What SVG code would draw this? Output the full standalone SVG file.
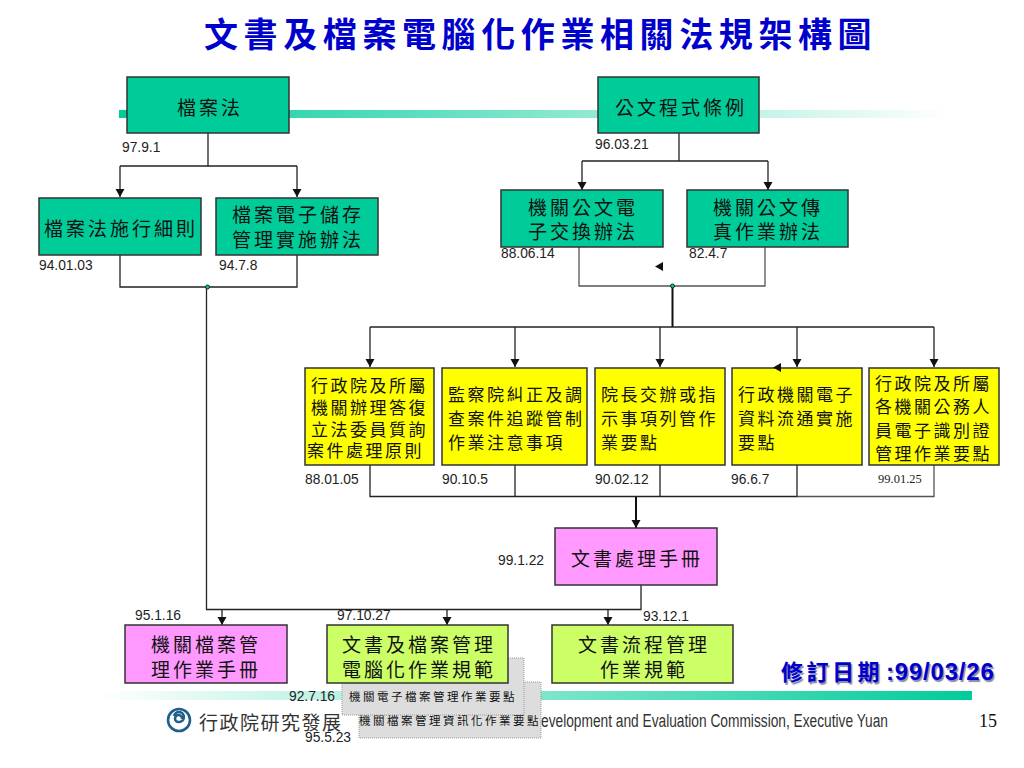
<svg xmlns="http://www.w3.org/2000/svg" width="1024" height="768" viewBox="0 0 1024 768">
<style>
text{font-family:"Noto Sans CJK TC","Liberation Sans",sans-serif;fill:#111}
.n{stroke:#333;stroke-width:1.5}
.t{fill:#00CC99}.y{fill:#FFFF00}.p{fill:#FF99FF}.g{fill:#CCFF66}
.b{font-size:19px;letter-spacing:3px;text-anchor:middle}
.s{font-size:17px;letter-spacing:2.500px}
.d{font-family:"Liberation Sans",Arial,sans-serif;font-size:13.800px;fill:#222}
.q{fill:#DDDDDD;stroke:#999;stroke-width:1;stroke-dasharray:1 1}
.k{font-size:11.500px;letter-spacing:2.500px}
.c{fill:none;stroke:#222;stroke-width:1.3}
.h{fill:none;stroke:#111;stroke-width:2}
.v{fill:none;stroke:#555;stroke-width:1.3}
</style>
<defs>
<linearGradient id="top"><stop offset="0" stop-color="#00CC99"/><stop offset="1" stop-color="#00CC99" stop-opacity="0"/></linearGradient>
<linearGradient id="bot"><stop offset="0" stop-color="#00CC99" stop-opacity="0"/><stop offset="1" stop-color="#00CC99"/></linearGradient>
<marker id="a" markerUnits="userSpaceOnUse" markerWidth="10" markerHeight="10" refX="8" refY="4.500" orient="auto"><path d="M0 0L8 4.500L0 9Z" fill="#111"/></marker>
</defs>
<g id="background">
<rect x="119" y="110" width="830" height="8" fill="url(#top)"/>
<rect x="100" y="691" width="872" height="9" fill="url(#bot)"/>
</g>
<g id="title"><text x="204" y="47" style="font-size:34px;letter-spacing:5.600px;font-weight:700;fill:#0000CC">文書及檔案電腦化作業相關法規架構圖</text></g>
<g id="footer">
<g fill="none" stroke="#1F5F8B" stroke-width="2.600"><circle cx="179" cy="720" r="11"/><path d="M174 716a5 5 0 1 1 5 6a3.500 3.500 0 1 1 3-3"/></g>
<text x="199" y="730" style="font-size:19px;letter-spacing:1.500px;fill:#333">行政院研究發展</text>
<text x="541" y="727" textLength="347" lengthAdjust="spacingAndGlyphs" style="font-family:'Liberation Sans',sans-serif;font-size:18px;fill:#333">evelopment and Evaluation Commission, Executive Yuan</text>
<text x="979" y="727" style="font-family:'Liberation Serif',serif;font-size:18px">15</text>
</g>
<g id="note-2"><rect class="q" x="359" y="682" width="182" height="56"/></g>
<g id="note-1"><rect class="q" x="342" y="658" width="182" height="57"/><text class="k" x="349" y="701">機關電子檔案管理作業要點</text></g>
<g id="note-2-text"><text class="k" x="359" y="725">機關檔案管理資訊化作業要點</text></g>
<g id="connectors">
<path class="c" d="M208 133V166"/>
<path class="c" d="M120 166H297M120 166V197" marker-end="url(#a)"/>
<path class="c" d="M297 166V197" marker-end="url(#a)"/>
<path class="c" d="M120 255V287H297V255"/>
<path class="c" d="M206.500 287V609.500H641V585"/>
<path class="c" d="M222 609.500V625" marker-end="url(#a)"/>
<path class="c" d="M447 609.500V625" marker-end="url(#a)"/>
<path class="c" d="M608 609.500V625" marker-end="url(#a)"/>
<path class="c" d="M679 133V161"/>
<path class="c" d="M582 161H768"/>
<path class="c" d="M582 161V190" marker-end="url(#a)"/>
<path class="c" d="M768 161V190" marker-end="url(#a)"/>
<path class="v" d="M579 247V286H765V247"/>
<path class="h" d="M672.500 286V327"/>
<path class="c" d="M370 327H934"/>
<path class="c" d="M370 327V367" marker-end="url(#a)"/>
<path class="c" d="M515 327V367" marker-end="url(#a)"/>
<path class="c" d="M660 327V367" marker-end="url(#a)"/>
<path class="c" d="M797 327V367" marker-end="url(#a)"/>
<path class="c" d="M934 327V367" marker-end="url(#a)"/>
<path class="c" d="M370 465V496.500H797V465M515 465V496.500M660 465V496.500"/>
<path class="v" d="M797 496.500H934V465"/>
<path class="h" d="M636 497V528" marker-end="url(#a)"/>
<path d="M663 262V271L655 266.500Z" fill="#111"/>
<circle cx="207.500" cy="287" r="2" fill="#00CC99" stroke="#222"/>
<circle cx="672.500" cy="286" r="2" fill="#00CC99" stroke="#222"/>
</g>
<g id="n-dangan"><rect class="n t" x="127" y="77" width="162" height="56"/><text class="b" x="210" y="115">檔案法</text></g>
<g id="n-gongwen"><rect class="n t" x="598" y="77" width="161" height="56"/><text class="b" x="681" y="115">公文程式條例</text></g>
<g id="n-xize"><rect class="n t" x="39" y="198" width="162" height="57"/><text class="b" x="121" y="236">檔案法施行細則</text></g>
<g id="n-chucun"><rect class="n t" x="216" y="198" width="162" height="57"/><text class="b" x="298" y="222">檔案電子儲存</text><text class="b" x="298" y="247">管理實施辦法</text></g>
<g id="n-jiaohuan"><rect class="n t" x="501" y="190" width="162" height="57"/><text class="b" x="583" y="215">機關公文電</text><text class="b" x="583" y="239">子交換辦法</text></g>
<g id="n-chuanzhen"><rect class="n t" x="687" y="190" width="161" height="57"/><text class="b" x="768" y="215">機關公文傳</text><text class="b" x="768" y="239">真作業辦法</text></g>
<g id="n-y1"><rect class="n y" x="305" y="368" width="129" height="97"/><text class="s" x="311" y="392">行政院及所屬</text><text class="s" x="311" y="414">機關辦理答復</text><text class="s" x="311" y="436">立法委員質詢</text><text class="s" x="307" y="457">案件處理原則</text></g>
<g id="n-y2"><rect class="n y" x="442" y="368" width="145" height="97"/><text class="s" x="448" y="401">監察院糾正及調</text><text class="s" x="448" y="425">查案件追蹤管制</text><text class="s" x="448" y="449">作業注意事項</text></g>
<g id="n-y3"><rect class="n y" x="595" y="368" width="130" height="97"/><text class="s" x="601" y="401">院長交辦或指</text><text class="s" x="601" y="425">示事項列管作</text><text class="s" x="601" y="449">業要點</text></g>
<g id="n-y4"><rect class="n y" x="732" y="368" width="130" height="97"/><text class="s" x="738" y="401">行政機關電子</text><text class="s" x="738" y="425">資料流通實施</text><text class="s" x="738" y="449">要點</text></g>
<g id="n-y5"><rect class="n y" x="869" y="368" width="130" height="97"/><text class="s" x="875" y="390">行政院及所屬</text><text class="s" x="875" y="413">各機關公務人</text><text class="s" x="875" y="437">員電子識別證</text><text class="s" x="875" y="460">管理作業要點</text></g>
<path id="stray-arrow" d="M781 363V372L773 367.500Z" fill="#111"/>
<g id="n-shouce"><rect class="n p" x="555" y="528" width="162" height="57"/><text class="b" x="637" y="566">文書處理手冊</text></g>
<g id="n-jiguan"><rect class="n p" x="125" y="625" width="162" height="58"/><text class="b" x="206" y="652">機關檔案管</text><text class="b" x="206" y="677">理作業手冊</text></g>
<g id="n-dianno"><rect class="n g" x="327" y="625" width="181" height="58"/><text class="b" x="419" y="652">文書及檔案管理</text><text class="b" x="419" y="677">電腦化作業規範</text></g>
<g id="n-liucheng"><rect class="n g" x="552" y="625" width="181" height="58"/><text class="b" x="644" y="652">文書流程管理</text><text class="b" x="644" y="677">作業規範</text></g>
<g id="dates">
<text class="d" x="122" y="152">97.9.1</text><text class="d" x="595" y="149">96.03.21</text>
<text class="d" x="39" y="270">94.01.03</text><text class="d" x="219" y="270">94.7.8</text>
<text class="d" x="501" y="258">88.06.14</text><text class="d" x="689" y="258">82.4.7</text>
<text class="d" x="305" y="484">88.01.05</text><text class="d" x="442" y="484">90.10.5</text><text class="d" x="595" y="484">90.02.12</text><text class="d" x="731" y="484">96.6.7</text>
<text class="d" x="878" y="483" style="font-family:'Liberation Serif',serif;font-size:12.500px">99.01.25</text>
<text class="d" x="498" y="565">99.1.22</text>
<text class="d" x="135" y="620">95.1.16</text><text class="d" x="337" y="620">97.10.27</text><text class="d" x="643" y="621">93.12.1</text>
<text class="d" x="289" y="701">92.7.16</text><text class="d" x="305" y="742">95.5.23</text>
</g>
<g id="revision"><text x="781" y="680" style="font-size:22px;font-weight:700;letter-spacing:3.500px;fill:#0000CC;text-shadow:1.500px 1.500px 1px #8888aa">修訂日期<tspan x="886" style="font-family:'Liberation Sans',sans-serif;font-size:24px;letter-spacing:.8px">:99/03/26</tspan></text></g>
</svg>
